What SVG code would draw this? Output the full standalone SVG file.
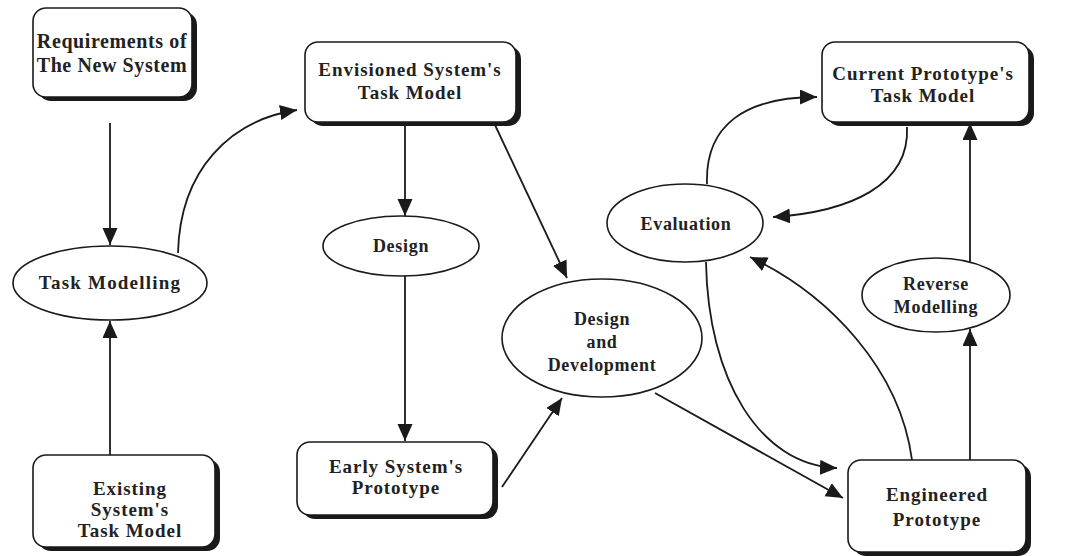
<svg xmlns="http://www.w3.org/2000/svg" width="1066" height="556" viewBox="0 0 1066 556">
<defs>
<marker id="ah" markerUnits="userSpaceOnUse" markerWidth="18" markerHeight="16" refX="17" refY="7.5" orient="auto">
<path d="M0,0 L17,7.5 L0,15 z" fill="#1a1a1a"/>
</marker>
</defs>
<style>
.box{fill:#fff;stroke:#1a1a1a;stroke-width:1.6}
.sh{fill:#1a1a1a}
.ell{fill:#fff;stroke:#1a1a1a;stroke-width:1.6}
.t{font-family:"Liberation Serif","Times New Roman",serif;font-weight:bold;font-size:18px;fill:#222;text-anchor:middle;letter-spacing:0.7px}
.bt{font-size:19px;letter-spacing:0.95px}
.big{font-size:20px;letter-spacing:0.6px}
.c{fill:none;stroke:#1a1a1a;stroke-width:1.8;marker-end:url(#ah)}
</style>
<rect width="1066" height="556" fill="#fff"/>
<g id="connectors">
<path class="c" d="M110,123 L110,245"/>
<path class="c" d="M110,455 L110,321"/>
<path class="c" d="M178,253 C180,170 230,120 297,110"/>
<path class="c" d="M405,122 L405,216"/>
<path class="c" d="M405,276 L405,441"/>
<path class="c" d="M495,125 L567,278"/>
<path class="c" d="M502,487 L562,398"/>
<path class="c" d="M655,393 L843,498"/>
<path class="c" d="M706,262 C708,380 760,465 837,468"/>
<path class="c" d="M912,460 C900,370 830,295 750,257"/>
<path class="c" d="M970,460 L970,329"/>
<path class="c" d="M970,262 L970,123"/>
<path class="c" d="M707,184 C705,125 745,97 817,97"/>
<path class="c" d="M907,127 C910,185 850,212 773,217"/>
</g>
<g id="n-requirements">
<rect class="sh" x="38" y="12" width="159" height="89" rx="13"/>
<rect class="box" x="33" y="8" width="159" height="89" rx="13"/>
<text class="t big" x="112" y="48">Requirements of</text>
<text class="t big" x="112" y="72">The New System</text>
</g>
<g id="n-envisioned">
<rect class="sh" x="310" y="46" width="211" height="80" rx="13"/>
<rect class="box" x="305" y="42" width="211" height="80" rx="13"/>
<text class="t bt" x="410" y="76">Envisioned System's</text>
<text class="t bt" x="410" y="99">Task Model</text>
</g>
<g id="n-existing">
<rect class="sh" x="38" y="459" width="182" height="92" rx="13"/>
<rect class="box" x="33" y="455" width="182" height="92" rx="13"/>
<text class="t bt" x="130" y="495">Existing</text>
<text class="t bt" x="130" y="516">System's</text>
<text class="t bt" x="130" y="537">Task Model</text>
</g>
<g id="n-early">
<rect class="sh" x="302" y="446" width="196" height="73" rx="13"/>
<rect class="box" x="297" y="442" width="196" height="73" rx="13"/>
<text class="t bt" x="396" y="473">Early System's</text>
<text class="t bt" x="396" y="494">Prototype</text>
</g>
<g id="n-current">
<rect class="sh" x="827" y="46" width="207" height="80" rx="13"/>
<rect class="box" x="822" y="42" width="207" height="80" rx="13"/>
<text class="t bt" x="923" y="80">Current Prototype's</text>
<text class="t bt" x="923" y="102">Task Model</text>
</g>
<g id="n-engineered">
<rect class="sh" x="853" y="464" width="178" height="92" rx="13"/>
<rect class="box" x="848" y="460" width="178" height="92" rx="13"/>
<text class="t bt" x="937" y="501">Engineered</text>
<text class="t bt" x="937" y="526">Prototype</text>
</g>
<g id="n-taskmodelling">
<ellipse class="ell" cx="110" cy="283" rx="97" ry="37"/>
<text class="t" x="110" y="289" style="font-size:19px;letter-spacing:1.2px">Task Modelling</text>
</g>
<g id="n-design">
<ellipse class="ell" cx="401" cy="246" rx="78" ry="30"/>
<text class="t" x="401" y="252">Design</text>
</g>
<g id="n-designdev">
<ellipse class="ell" cx="602" cy="338" rx="100" ry="59"/>
<text class="t" x="602" y="325">Design</text>
<text class="t" x="602" y="348">and</text>
<text class="t" x="602" y="371">Development</text>
</g>
<g id="n-evaluation">
<ellipse class="ell" cx="685" cy="223" rx="78" ry="39"/>
<text class="t" x="686" y="230">Evaluation</text>
</g>
<g id="n-reverse">
<ellipse class="ell" cx="936" cy="295" rx="74" ry="37"/>
<text class="t" x="936" y="290">Reverse</text>
<text class="t" x="936" y="313">Modelling</text>
</g>
</svg>
